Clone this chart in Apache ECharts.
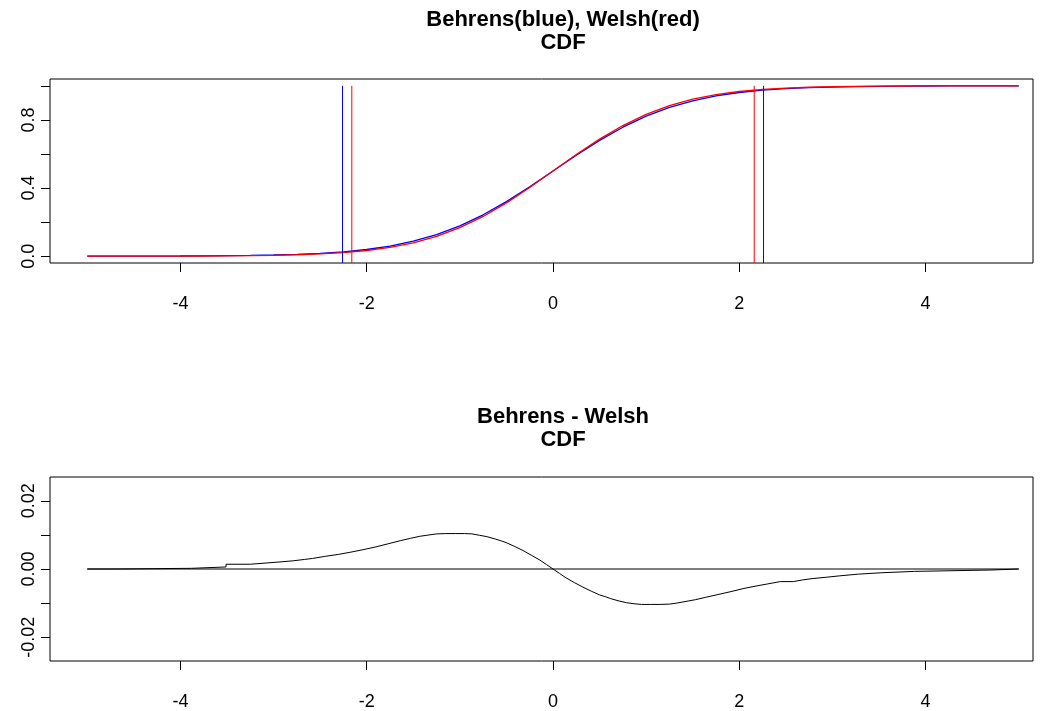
<!DOCTYPE html>
<html><head><meta charset="utf-8">
<script src="https://cdn.jsdelivr.net/npm/echarts@6/dist/echarts.min.js"></script>
<style>html,body{margin:0;padding:0;background:#fff}#c{width:1045px;height:711px}</style>
</head><body><div id="c"></div>
<script>
// ---- data ----
const cdfX = [-5,-4.75,-4.5,-4.25,-4,-3.75,-3.5,-3.25,-3,-2.75,-2.5,-2.25,-2,-1.75,-1.5,-1.25,-1,-0.75,-0.5,-0.25,0,
  0.25,0.5,0.75,1,1.25,1.5,1.75,2,2.25,2.5,2.75,3,3.25,3.5,3.75,4,4.25,4.5,4.75,5];
const behrensCdf = [0.0001,0.0002,0.0005,0.0007,0.0010,0.0018,0.0033,0.0049,0.0072,0.0111,0.0169,0.0258,0.0393,0.0596,0.0879,0.1270,0.1782,0.2429,0.3204,0.4075,0.5000,
  0.5925,0.6796,0.7571,0.8218,0.8730,0.9121,0.9404,0.9607,0.9742,0.9831,0.9889,0.9928,0.9951,0.9967,0.9982,0.9990,0.9993,0.9995,0.9998,0.9999];
const welshCdf = [0.0001,0.0002,0.0003,0.0005,0.0008,0.0012,0.0020,0.0032,0.0051,0.0083,0.0133,0.0212,0.0334,0.0518,0.0787,0.1167,0.1678,0.2333,0.3127,0.4032,0.5000,
  0.5968,0.6873,0.7667,0.8322,0.8833,0.9213,0.9482,0.9666,0.9788,0.9867,0.9917,0.9949,0.9968,0.9980,0.9988,0.9992,0.9995,0.9997,0.9998,0.9999];
const behrensCrit = [-2.26, 2.26];
const welshCrit = [-2.16, 2.16];

const diffX = [-5,-4.69,-4.69,-3.88,-3.88,-3.51,-3.51,-3.25,-3.25,-3.06,-3.06,-2.92,-2.92,-2.79,-2.79,-2.67,-2.67,-2.58,-2.58,-2.45,
  -2.3,-2.18,-2.05,-1.9,-1.77,-1.64,-1.53,-1.43,-1.33,-1.25,-1.15,-1.05,-0.95,-0.87,-0.79,-0.71,-0.62,-0.55,-0.5,-0.41,-0.32,-0.23,-0.14,-0.07,0,
  0.07,0.14,0.23,0.32,0.41,0.5,0.56,0.62,0.71,0.79,0.87,0.95,1.05,1.15,1.25,1.33,1.45,1.53,1.64,1.77,1.9,2.05,2.18,2.3,2.44,
  2.58,2.58,2.68,2.68,2.79,2.79,2.94,2.94,3.08,3.08,3.28,3.28,3.53,3.53,3.88,3.88,4.70,4.70,5];
const diffY = [0,0,0.0002,0.0002,0.0006,0.0006,0.0014,0.0014,0.0018,0.0018,0.0021,0.0021,0.0024,0.0024,0.0028,0.0028,0.0031,0.0031,0.0035,0.0037,
  0.0043,0.0049,0.0056,0.0065,0.0074,0.0083,0.0090,0.0096,0.0100,0.0103,0.0104,0.0104,0.0104,0.0103,0.0099,0.0095,0.0088,0.0082,0.0077,0.0066,0.0054,0.0040,0.0026,0.0013,0,
  -0.0013,-0.0026,-0.0040,-0.0053,-0.0065,-0.0076,-0.0081,-0.0087,-0.0094,-0.0099,-0.0102,-0.0104,-0.0104,-0.0104,-0.0103,-0.0100,-0.0094,-0.0090,-0.0083,-0.0075,-0.0067,-0.0057,-0.0050,-0.0044,-0.0037,
  -0.0037,-0.0032,-0.0032,-0.0028,-0.0028,-0.0024,-0.0024,-0.0020,-0.0020,-0.0015,-0.0015,-0.0011,-0.0011,-0.0007,-0.0007,-0.0003,-0.0003,0,0];
const zeroLineX = [-5, 5];

const xTicks = [-4,-2,0,2,4];
const cdfTicks = [0,0.2,0.4,0.6,0.8,1.0];
const cdfLabels = [0,0.4,0.8];
const diffTicks = [-0.02,-0.01,0,0.01,0.02];
const diffLabels = [-0.02,0,0.02];
const titles = [['Behrens(blue), Welsh(red)','CDF'],['Behrens - Welsh','CDF']];

// ---- chart ----
const FONT = 'Liberation Sans, Arial, Helvetica, sans-serif';
const chart = echarts.init(document.getElementById('c'), null, {renderer:'canvas'});
const zip = (xs, ys) => xs.map((x,i)=>[x, ys[i]]);

function xAxis(gi){
  return {
    type:'value', gridIndex:gi, min:-5.4, max:5.153,
    axisLine:{show:false, onZero:false}, splitLine:{show:false},
    axisTick:{show:true, customValues:xTicks, length:9, lineStyle:{color:'#000', width:1}},
    axisLabel:{customValues:xTicks, color:'#000', fontSize:18, fontFamily:FONT, margin:32,
      formatter:v=>String(v)}
  };
}
function yAxis(gi, min, max, ticks, labels, dec){
  return {
    type:'value', gridIndex:gi, min:min, max:max,
    axisLine:{show:false, onZero:false}, splitLine:{show:false},
    axisTick:{show:true, customValues:ticks, length:9, lineStyle:{color:'#000', width:1}},
    axisLabel:{customValues:labels, color:'#000', fontSize:18, fontFamily:FONT, rotate:90, margin:12,
      formatter:v=>Number(v).toFixed(dec)}
  };
}
function vline(x, color){
  return {type:'line', xAxisIndex:0, yAxisIndex:0, data:[[x,-0.04],[x,1]], symbol:'none',
    lineStyle:{color:color, width:1}, silent:true, animation:false};
}

const series = [];
series.push({type:'line', xAxisIndex:0, yAxisIndex:0, data:zip(cdfX, behrensCdf), symbol:'none',
  lineStyle:{color:'#0000ff', width:1.3}, animation:false});
series.push({type:'line', xAxisIndex:0, yAxisIndex:0, data:zip(cdfX, welshCdf), symbol:'none',
  lineStyle:{color:'#ff0000', width:1.3}, animation:false});
behrensCrit.forEach(x=>series.push(vline(x,'#0000ff')));
welshCrit.forEach(x=>series.push(vline(x,'#ff0000')));
series.push({type:'line', xAxisIndex:1, yAxisIndex:1, data:zeroLineX.map(x=>[x,0]), symbol:'none',
  lineStyle:{color:'#000', width:1}, animation:false});
series.push({type:'line', xAxisIndex:1, yAxisIndex:1, data:zip(diffX, diffY), symbol:'none',
  lineStyle:{color:'#000', width:1}, animation:false});

const titleY = [[20,43],[417,440]];
const graphics = [];
titles.forEach((t,i)=>t.forEach((line,j)=>graphics.push({
  type:'text', x:563, y:titleY[i][j], silent:true,
  style:{text:line, fill:'#000', font:'bold 22px '+FONT, textAlign:'center', textVerticalAlign:'middle'}
})));

chart.setOption({
  backgroundColor:'#fff',
  animation:false,
  grid:[
    {left:50, right:12, top:79, height:184, show:true, borderColor:'#000', borderWidth:1, backgroundColor:'transparent'},
    {left:50, right:12, top:477, height:184, show:true, borderColor:'#000', borderWidth:1, backgroundColor:'transparent'}
  ],
  xAxis:[xAxis(0), xAxis(1)],
  yAxis:[yAxis(0,-0.04,1.04,cdfTicks,cdfLabels,1), yAxis(1,-0.027,0.027,diffTicks,diffLabels,2)],
  series:series,
  graphic:graphics
});
</script>
</body></html>
